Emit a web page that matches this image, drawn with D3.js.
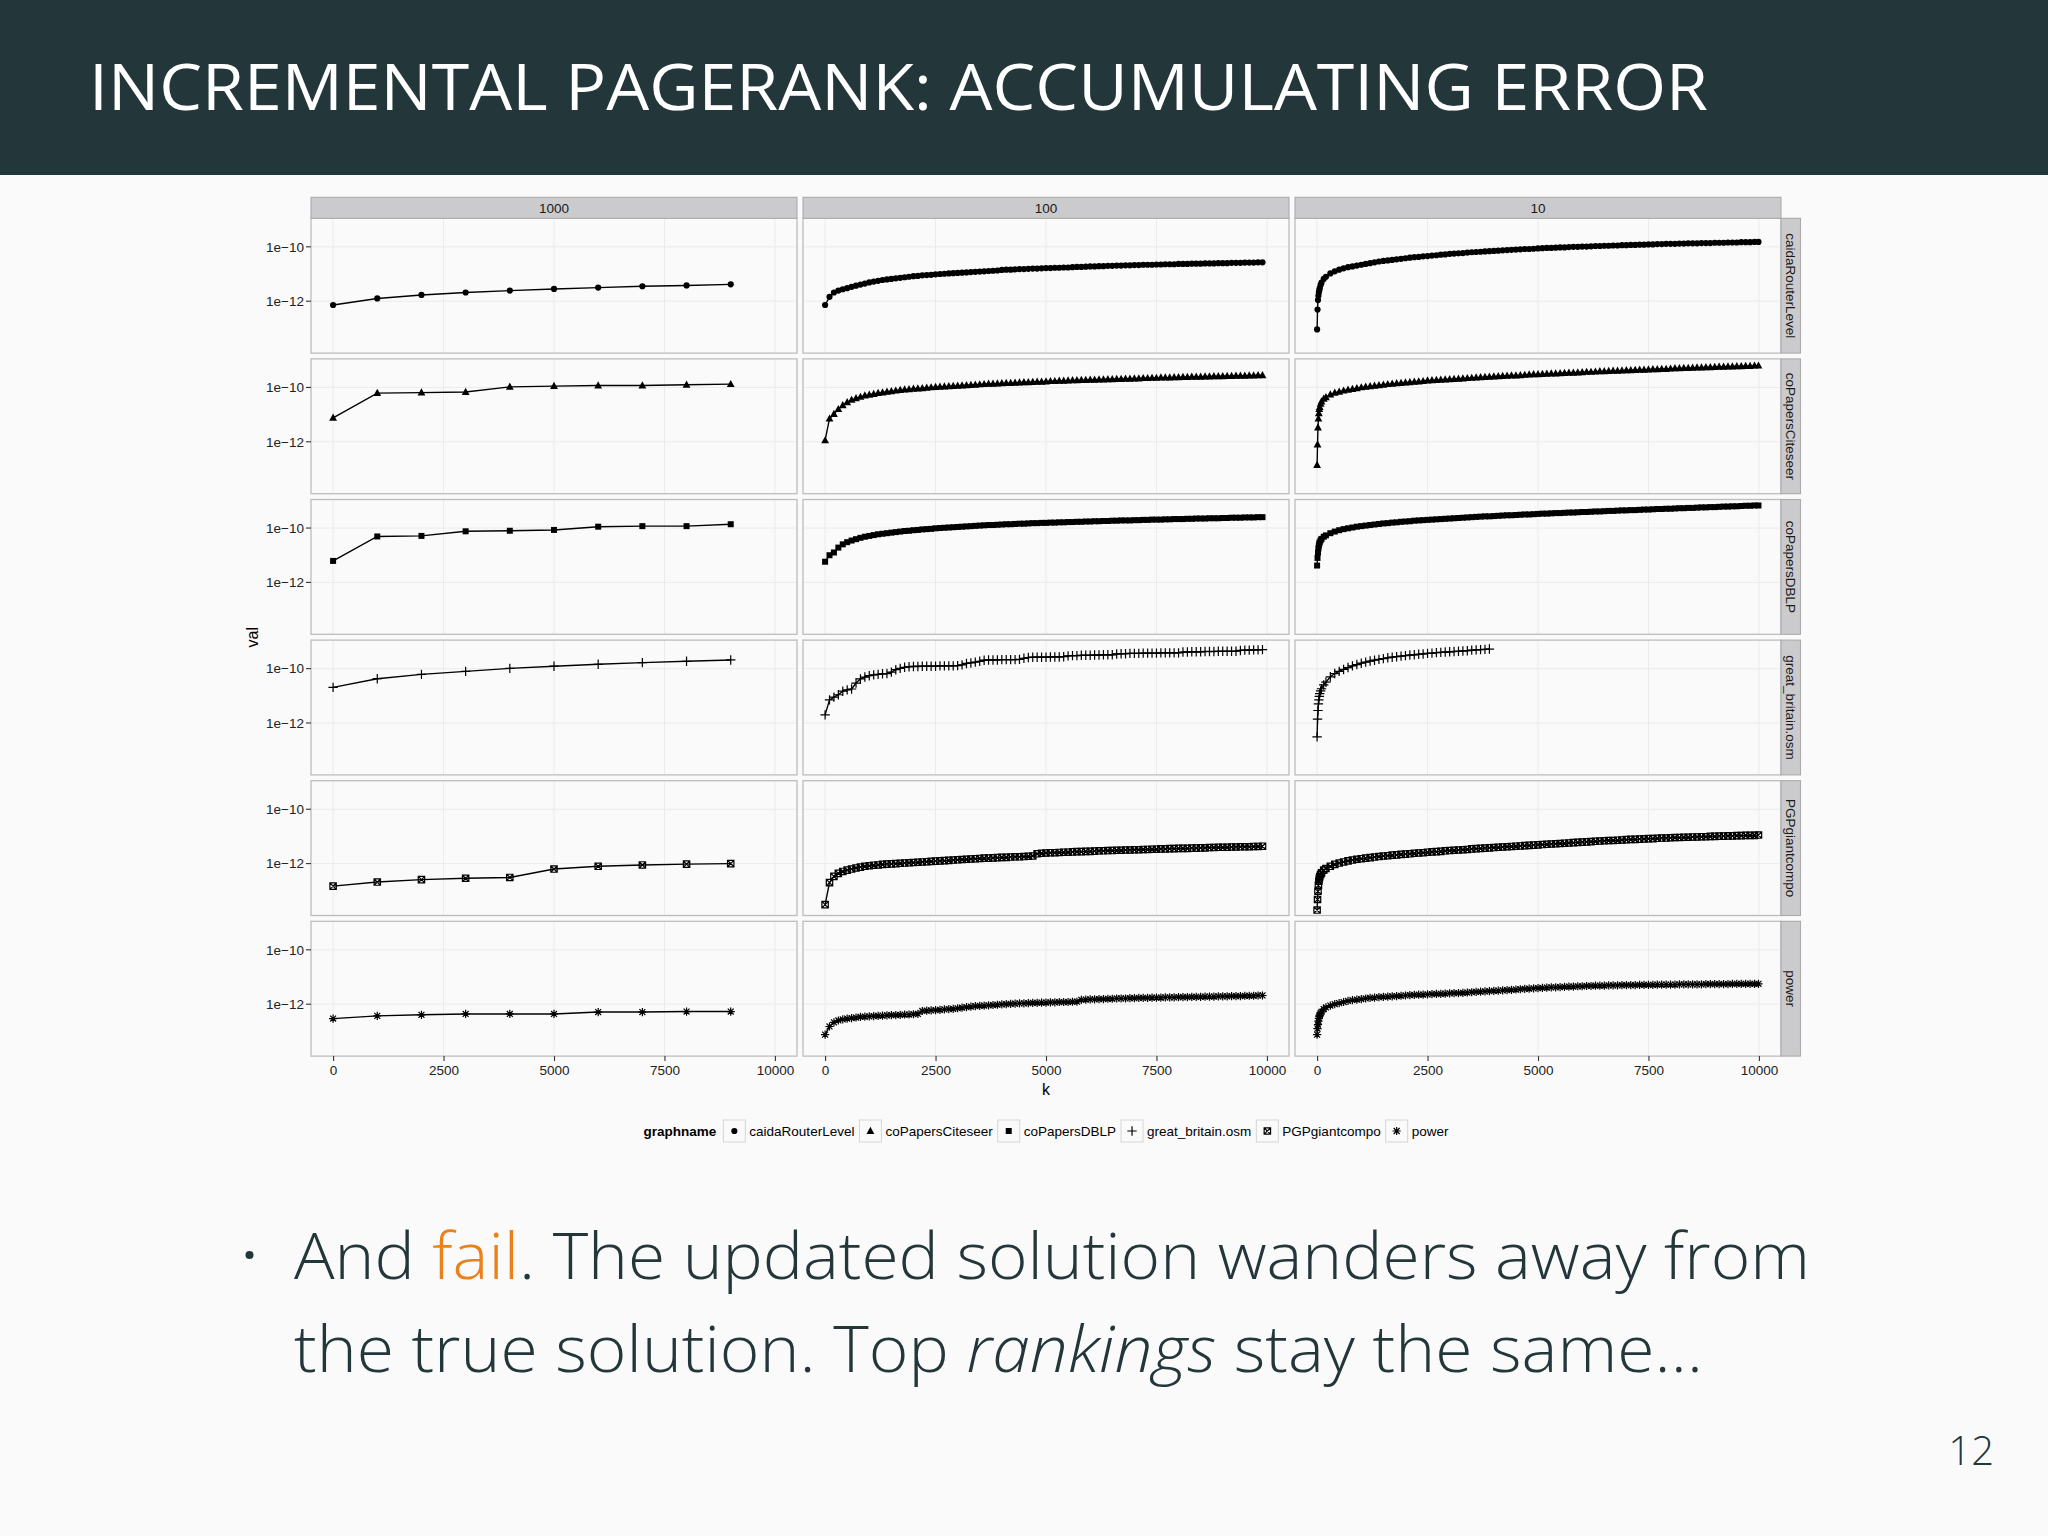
<!DOCTYPE html>
<meta charset="utf-8">
<style>
  body { margin: 0; background: #fafafa; }
  svg { display: block; }
  .chart text { font-family: "Liberation Sans", Arial, sans-serif; }
  .slide text { font-family: "Open Sans", sans-serif; }
</style>
<script src="https://d3js.org/d3.v7.min.js"></script>
<div id="slide"></div>
<script>

// facets: columns are the update step, rows are the graphs
var steps = ["1000", "100", "10"];
var graphs = ["caidaRouterLevel", "coPapersCiteseer", "coPapersDBLP", "great_britain.osm", "PGPgiantcompo", "power"];
var shapes = ["circle", "triangle", "square", "plus", "boxcross", "asterisk"];

var xTicks = [0, 2500, 5000, 7500, 10000];
var yTicks = [1e-10, 1e-12];
var yTickLabels = ["1e\u221210", "1e\u221212"];

// k values of the three step sizes
var K1000 = [0, 1000, 2000, 3000, 4000, 5000, 6000, 7000, 8000, 9000];
var K100 = [
  0, 100, 200, 300, 400, 500, 600, 700, 800, 900,
  1000, 1100, 1200, 1300, 1400, 1500, 1600, 1700, 1800, 1900,
  2000, 2100, 2200, 2300, 2400, 2500, 2600, 2700, 2800, 2900,
  3000, 3100, 3200, 3300, 3400, 3500, 3600, 3700, 3800, 3900,
  4000, 4100, 4200, 4300, 4400, 4500, 4600, 4700, 4800, 4900,
  5000, 5100, 5200, 5300, 5400, 5500, 5600, 5700, 5800, 5900,
  6000, 6100, 6200, 6300, 6400, 6500, 6600, 6700, 6800, 6900,
  7000, 7100, 7200, 7300, 7400, 7500, 7600, 7700, 7800, 7900,
  8000, 8100, 8200, 8300, 8400, 8500, 8600, 8700, 8800, 8900,
  9000, 9100, 9200, 9300, 9400, 9500, 9600, 9700, 9800, 9900];
var K10 = [0, 10, 20, 30, 40, 50, 60, 80, 100, 150, 200, 300, 400, 500,
  600, 700, 800, 900, 1000, 1100, 1200, 1300, 1400, 1500,
  1600, 1700, 1800, 1900, 2000, 2100, 2200, 2300, 2400, 2500,
  2600, 2700, 2800, 2900, 3000, 3100, 3200, 3300, 3400, 3500,
  3600, 3700, 3800, 3900, 4000, 4100, 4200, 4300, 4400, 4500,
  4600, 4700, 4800, 4900, 5000, 5100, 5200, 5300, 5400, 5500,
  5600, 5700, 5800, 5900, 6000, 6100, 6200, 6300, 6400, 6500,
  6600, 6700, 6800, 6900, 7000, 7100, 7200, 7300, 7400, 7500,
  7600, 7700, 7800, 7900, 8000, 8100, 8200, 8300, 8400, 8500,
  8600, 8700, 8800, 8900, 9000, 9100, 9200, 9300, 9400, 9500,
  9600, 9700, 9800, 9900, 9990];

// values, stored as log10(val)
var caida1000 = [-12.14, -11.90, -11.77, -11.68, -11.61, -11.55, -11.50, -11.45, -11.42, -11.38];
var citeseer1000 = [-11.12, -10.21, -10.19, -10.17, -9.98, -9.95, -9.93, -9.93, -9.90, -9.88];
var dblp1000 = [-11.21, -10.31, -10.29, -10.12, -10.10, -10.07, -9.95, -9.93, -9.93, -9.86];
var gb1000 = [-10.69, -10.37, -10.21, -10.10, -9.99, -9.91, -9.84, -9.78, -9.73, -9.68];
var pgp1000 = [-12.83, -12.68, -12.59, -12.54, -12.51, -12.20, -12.10, -12.05, -12.02, -12.00];
var power1000 = [-12.53, -12.43, -12.39, -12.36, -12.36, -12.36, -12.29, -12.29, -12.27, -12.27];

var caida100 = [
  -12.14, -11.84, -11.68, -11.61, -11.56, -11.52, -11.47, -11.43, -11.39, -11.35,
  -11.31, -11.28, -11.25, -11.22, -11.20, -11.18, -11.16, -11.14, -11.12, -11.10,
  -11.08, -11.07, -11.05, -11.04, -11.03, -11.01, -11.00, -10.99, -10.98, -10.97,
  -10.96, -10.95, -10.94, -10.93, -10.92, -10.91, -10.90, -10.89, -10.88, -10.87,
  -10.85, -10.84, -10.84, -10.83, -10.82, -10.82, -10.81, -10.80, -10.80, -10.79,
  -10.78, -10.78, -10.77, -10.77, -10.76, -10.76, -10.75, -10.74, -10.74, -10.73,
  -10.72, -10.72, -10.71, -10.71, -10.70, -10.70, -10.69, -10.69, -10.68, -10.68,
  -10.67, -10.67, -10.66, -10.66, -10.66, -10.65, -10.65, -10.64, -10.64, -10.64,
  -10.63, -10.63, -10.63, -10.62, -10.62, -10.62, -10.61, -10.61, -10.61, -10.60,
  -10.60, -10.60, -10.59, -10.59, -10.59, -10.58, -10.58, -10.58, -10.57, -10.57];
var citeseer100 = [
  -11.95, -11.15, -10.98, -10.80, -10.66, -10.55, -10.46, -10.40, -10.35, -10.30,
  -10.27, -10.24, -10.21, -10.19, -10.16, -10.14, -10.12, -10.10, -10.08, -10.07,
  -10.05, -10.04, -10.03, -10.01, -10.00, -9.99, -9.98, -9.97, -9.96, -9.95,
  -9.94, -9.93, -9.92, -9.91, -9.90, -9.89, -9.88, -9.87, -9.87, -9.86,
  -9.85, -9.84, -9.84, -9.83, -9.82, -9.81, -9.81, -9.80, -9.79, -9.79,
  -9.78, -9.77, -9.77, -9.76, -9.76, -9.75, -9.74, -9.74, -9.73, -9.73,
  -9.72, -9.72, -9.71, -9.71, -9.70, -9.70, -9.69, -9.69, -9.68, -9.68,
  -9.67, -9.67, -9.66, -9.66, -9.65, -9.65, -9.64, -9.64, -9.64, -9.63,
  -9.63, -9.62, -9.62, -9.61, -9.61, -9.61, -9.60, -9.60, -9.59, -9.59,
  -9.59, -9.58, -9.58, -9.57, -9.57, -9.57, -9.56, -9.56, -9.55, -9.55];
var dblp100 = [
  -11.24, -11.00, -10.90, -10.72, -10.60, -10.52, -10.46, -10.41, -10.36, -10.32,
  -10.29, -10.26, -10.23, -10.21, -10.19, -10.17, -10.15, -10.13, -10.11, -10.10,
  -10.08, -10.07, -10.05, -10.04, -10.03, -10.01, -10.00, -9.99, -9.98, -9.97,
  -9.96, -9.95, -9.94, -9.93, -9.92, -9.91, -9.90, -9.89, -9.89, -9.88,
  -9.87, -9.86, -9.86, -9.85, -9.84, -9.84, -9.83, -9.82, -9.82, -9.81,
  -9.81, -9.80, -9.80, -9.79, -9.79, -9.78, -9.78, -9.77, -9.77, -9.76,
  -9.76, -9.75, -9.75, -9.74, -9.74, -9.73, -9.73, -9.72, -9.72, -9.72,
  -9.71, -9.71, -9.70, -9.70, -9.69, -9.69, -9.69, -9.68, -9.68, -9.67,
  -9.67, -9.67, -9.66, -9.66, -9.65, -9.65, -9.65, -9.64, -9.64, -9.64,
  -9.63, -9.63, -9.62, -9.62, -9.62, -9.61, -9.61, -9.61, -9.60, -9.60];
var gb100 = [
  -11.70, -11.15, -11.05, -10.96, -10.83, -10.78, -10.75, -10.53, -10.38, -10.31,
  -10.26, -10.23, -10.21, -10.19, -10.18, -10.13, -10.04, -9.99, -9.95, -9.93,
  -9.92, -9.92, -9.91, -9.91, -9.91, -9.91, -9.90, -9.90, -9.90, -9.90,
  -9.89, -9.86, -9.81, -9.79, -9.76, -9.73, -9.69, -9.68, -9.68, -9.68,
  -9.67, -9.67, -9.67, -9.67, -9.66, -9.62, -9.59, -9.58, -9.58, -9.58,
  -9.58, -9.57, -9.57, -9.57, -9.56, -9.53, -9.52, -9.52, -9.51, -9.51,
  -9.51, -9.50, -9.50, -9.49, -9.49, -9.49, -9.46, -9.45, -9.45, -9.44,
  -9.44, -9.44, -9.43, -9.43, -9.43, -9.43, -9.42, -9.42, -9.42, -9.42,
  -9.42, -9.39, -9.39, -9.38, -9.38, -9.38, -9.37, -9.37, -9.37, -9.36,
  -9.36, -9.36, -9.36, -9.36, -9.33, -9.32, -9.32, -9.31, -9.31, -9.30];
var pgp100 = [
  -13.51, -12.70, -12.47, -12.36, -12.29, -12.24, -12.20, -12.16, -12.13, -12.10,
  -12.08, -12.06, -12.05, -12.03, -12.02, -12.01, -12.00, -11.99, -11.98, -11.97,
  -11.96, -11.95, -11.94, -11.93, -11.92, -11.91, -11.90, -11.89, -11.88, -11.87,
  -11.86, -11.85, -11.84, -11.83, -11.82, -11.81, -11.80, -11.80, -11.79, -11.78,
  -11.77, -11.77, -11.76, -11.75, -11.75, -11.74, -11.73, -11.72, -11.64, -11.62,
  -11.61, -11.60, -11.60, -11.59, -11.58, -11.58, -11.57, -11.56, -11.56, -11.55,
  -11.55, -11.54, -11.53, -11.53, -11.52, -11.52, -11.51, -11.51, -11.50, -11.50,
  -11.49, -11.49, -11.48, -11.48, -11.47, -11.47, -11.46, -11.46, -11.45, -11.45,
  -11.44, -11.44, -11.44, -11.43, -11.43, -11.42, -11.42, -11.41, -11.41, -11.40,
  -11.40, -11.40, -11.39, -11.39, -11.38, -11.38, -11.38, -11.37, -11.37, -11.36];
var power100 = [
  -13.12, -12.82, -12.67, -12.60, -12.56, -12.53, -12.51, -12.49, -12.47, -12.46,
  -12.45, -12.44, -12.43, -12.42, -12.41, -12.40, -12.40, -12.39, -12.38, -12.38,
  -12.37, -12.36, -12.25, -12.24, -12.23, -12.22, -12.21, -12.19, -12.18, -12.17,
  -12.15, -12.13, -12.11, -12.09, -12.07, -12.06, -12.05, -12.04, -12.03, -12.02,
  -12.01, -12.00, -11.99, -11.98, -11.97, -11.97, -11.96, -11.95, -11.95, -11.94,
  -11.94, -11.93, -11.93, -11.92, -11.92, -11.92, -11.91, -11.91, -11.84, -11.83,
  -11.82, -11.82, -11.81, -11.81, -11.80, -11.80, -11.79, -11.79, -11.79, -11.78,
  -11.78, -11.77, -11.77, -11.77, -11.76, -11.76, -11.76, -11.75, -11.75, -11.75,
  -11.74, -11.74, -11.74, -11.73, -11.73, -11.73, -11.72, -11.72, -11.72, -11.71,
  -11.71, -11.71, -11.70, -11.70, -11.70, -11.69, -11.69, -11.69, -11.68, -11.68];

var caida10 = [-13.04, -12.31, -11.96, -11.80, -11.68, -11.60, -11.52, -11.40, -11.32, -11.18, -11.10, -10.98, -10.90, -10.84,
  -10.79, -10.75, -10.72, -10.69, -10.66, -10.63, -10.60, -10.57, -10.54, -10.52,
  -10.50, -10.48, -10.46, -10.44, -10.42, -10.40, -10.38, -10.37, -10.35, -10.34,
  -10.32, -10.31, -10.29, -10.28, -10.26, -10.25, -10.24, -10.23, -10.21, -10.20,
  -10.19, -10.18, -10.17, -10.16, -10.15, -10.14, -10.13, -10.12, -10.11, -10.10,
  -10.09, -10.08, -10.08, -10.07, -10.06, -10.05, -10.04, -10.04, -10.03, -10.02,
  -10.02, -10.01, -10.00, -10.00, -9.99, -9.99, -9.98, -9.97, -9.97, -9.96,
  -9.96, -9.95, -9.95, -9.94, -9.94, -9.93, -9.93, -9.92, -9.92, -9.91,
  -9.91, -9.90, -9.90, -9.89, -9.89, -9.89, -9.88, -9.88, -9.87, -9.87,
  -9.87, -9.86, -9.86, -9.86, -9.85, -9.85, -9.85, -9.84, -9.84, -9.84,
  -9.83, -9.83, -9.83, -9.82, -9.82];
var citeseer10 = [-12.86, -12.10, -11.48, -11.15, -10.95, -10.80, -10.72, -10.60, -10.52, -10.42, -10.36, -10.26, -10.20, -10.16,
  -10.12, -10.09, -10.06, -10.03, -10.00, -9.98, -9.96, -9.94, -9.92, -9.90,
  -9.88, -9.87, -9.85, -9.84, -9.82, -9.81, -9.79, -9.78, -9.77, -9.75,
  -9.74, -9.73, -9.72, -9.71, -9.70, -9.69, -9.68, -9.67, -9.66, -9.65,
  -9.64, -9.63, -9.62, -9.61, -9.60, -9.59, -9.58, -9.57, -9.56, -9.56,
  -9.55, -9.54, -9.53, -9.52, -9.52, -9.51, -9.50, -9.49, -9.49, -9.48,
  -9.47, -9.46, -9.46, -9.45, -9.44, -9.43, -9.43, -9.42, -9.41, -9.41,
  -9.40, -9.39, -9.39, -9.38, -9.37, -9.37, -9.36, -9.35, -9.35, -9.34,
  -9.33, -9.33, -9.32, -9.32, -9.31, -9.30, -9.30, -9.29, -9.29, -9.28,
  -9.27, -9.27, -9.26, -9.26, -9.25, -9.24, -9.24, -9.23, -9.23, -9.22,
  -9.22, -9.21, -9.21, -9.20, -9.20];
var dblp10 = [-11.38, -11.10, -10.90, -10.75, -10.65, -10.57, -10.52, -10.45, -10.40, -10.32, -10.27, -10.19, -10.13, -10.08,
  -10.04, -10.01, -9.98, -9.95, -9.93, -9.91, -9.89, -9.87, -9.85, -9.83,
  -9.82, -9.80, -9.79, -9.77, -9.76, -9.75, -9.73, -9.72, -9.71, -9.70,
  -9.69, -9.68, -9.67, -9.66, -9.65, -9.64, -9.63, -9.62, -9.61, -9.60,
  -9.59, -9.58, -9.57, -9.57, -9.56, -9.55, -9.54, -9.53, -9.53, -9.52,
  -9.51, -9.50, -9.50, -9.49, -9.48, -9.47, -9.47, -9.46, -9.45, -9.45,
  -9.44, -9.43, -9.43, -9.42, -9.41, -9.41, -9.40, -9.39, -9.39, -9.38,
  -9.37, -9.37, -9.36, -9.35, -9.35, -9.34, -9.34, -9.33, -9.32, -9.32,
  -9.31, -9.30, -9.30, -9.29, -9.29, -9.28, -9.27, -9.27, -9.26, -9.26,
  -9.25, -9.24, -9.24, -9.23, -9.23, -9.22, -9.21, -9.21, -9.20, -9.20,
  -9.19, -9.18, -9.18, -9.17, -9.17];
// great_britain.osm stops near k = 4000
var gb10 = [-12.51, -11.86, -11.54, -11.30, -11.15, -11.02, -10.92, -10.82, -10.74, -10.60, -10.50, -10.30, -10.18, -10.10,
  -10.03, -9.96, -9.90, -9.85, -9.80, -9.76, -9.72, -9.69, -9.66, -9.63,
  -9.60, -9.58, -9.56, -9.54, -9.52, -9.50, -9.49, -9.47, -9.46, -9.44,
  -9.43, -9.41, -9.40, -9.39, -9.38, -9.37, -9.36, -9.35, -9.34, -9.32,
  -9.31, -9.30, -9.29, -9.28];
var pgp10 = [-13.71, -13.32, -13.02, -12.80, -12.65, -12.55, -12.48, -12.40, -12.34, -12.24, -12.18, -12.10, -12.03, -11.98,
  -11.94, -11.90, -11.87, -11.84, -11.82, -11.80, -11.78, -11.76, -11.74, -11.72,
  -11.71, -11.69, -11.68, -11.66, -11.65, -11.64, -11.62, -11.61, -11.60, -11.58,
  -11.57, -11.56, -11.55, -11.53, -11.52, -11.51, -11.50, -11.49, -11.48, -11.46,
  -11.45, -11.44, -11.43, -11.42, -11.41, -11.40, -11.39, -11.38, -11.37, -11.36,
  -11.35, -11.34, -11.33, -11.32, -11.31, -11.30, -11.29, -11.28, -11.27, -11.26,
  -11.25, -11.24, -11.23, -11.22, -11.21, -11.20, -11.19, -11.18, -11.17, -11.16,
  -11.15, -11.15, -11.14, -11.13, -11.12, -11.11, -11.11, -11.10, -11.09, -11.08,
  -11.08, -11.07, -11.06, -11.06, -11.05, -11.04, -11.04, -11.03, -11.03, -11.02,
  -11.02, -11.01, -11.01, -11.00, -11.00, -10.99, -10.99, -10.98, -10.98, -10.97,
  -10.97, -10.96, -10.96, -10.96, -10.95];
var power10 = [-13.12, -12.90, -12.75, -12.62, -12.52, -12.45, -12.40, -12.33, -12.28, -12.18, -12.12, -12.05, -12.00, -11.96,
  -11.92, -11.88, -11.85, -11.83, -11.81, -11.79, -11.77, -11.76, -11.74, -11.73,
  -11.72, -11.71, -11.70, -11.69, -11.68, -11.67, -11.66, -11.65, -11.65, -11.64,
  -11.63, -11.62, -11.62, -11.61, -11.60, -11.59, -11.59, -11.58, -11.57, -11.56,
  -11.55, -11.54, -11.53, -11.52, -11.51, -11.50, -11.49, -11.48, -11.47, -11.46,
  -11.45, -11.44, -11.43, -11.42, -11.41, -11.40, -11.39, -11.38, -11.38, -11.37,
  -11.36, -11.35, -11.35, -11.34, -11.34, -11.33, -11.33, -11.32, -11.32, -11.32,
  -11.31, -11.31, -11.31, -11.30, -11.30, -11.30, -11.30, -11.29, -11.29, -11.29,
  -11.29, -11.28, -11.28, -11.28, -11.28, -11.28, -11.27, -11.27, -11.27, -11.27,
  -11.27, -11.27, -11.26, -11.26, -11.26, -11.26, -11.26, -11.26, -11.25, -11.25,
  -11.25, -11.25, -11.25, -11.25, -11.25];

var kGrids = [K1000, K100, K10];
var values = [
  [caida1000, caida100, caida10],
  [citeseer1000, citeseer100, citeseer10],
  [dblp1000, dblp100, dblp10],
  [gb1000, gb100, gb10],
  [pgp1000, pgp100, pgp10],
  [power1000, power100, power10]
];

// ---- slide ----
var svg = d3.select("#slide").append("svg")
    .attr("width", 2048).attr("height", 1536);

var slide = svg.append("g").attr("class", "slide");
slide.append("rect").attr("width", 2048).attr("height", 1536).attr("fill", "#fafafa");
slide.append("rect").attr("width", 2048).attr("height", 175).attr("fill", "#23373b");
slide.append("text")
    .attr("x", 89).attr("y", 110)
    .attr("font-size", 64)
    .attr("fill", "#ffffff")
    .attr("textLength", 1619).attr("lengthAdjust", "spacingAndGlyphs")
    .text("INCREMENTAL PAGERANK: ACCUMULATING ERROR");

slide.append("circle").attr("cx", 249.5).attr("cy", 1255).attr("r", 4).attr("fill", "#23373b");

var line1 = slide.append("text")
    .attr("x", 294).attr("y", 1279)
    .attr("font-size", 64).attr("font-weight", 300)
    .attr("fill", "#23373b")
    .attr("textLength", 1516).attr("lengthAdjust", "spacingAndGlyphs");
line1.append("tspan").text("And ");
line1.append("tspan").attr("fill", "#eb811b").text("fail");
line1.append("tspan").text(". The updated solution wanders away from");

var line2 = slide.append("text")
    .attr("x", 294).attr("y", 1372)
    .attr("font-size", 64).attr("font-weight", 300)
    .attr("fill", "#23373b")
    .attr("textLength", 1409).attr("lengthAdjust", "spacingAndGlyphs");
line2.append("tspan").text("the true solution. Top ");
line2.append("tspan").attr("font-style", "italic").text("rankings");
line2.append("tspan").text(" stay the same\u2026");

slide.append("text")
    .attr("x", 1994).attr("y", 1465)
    .attr("text-anchor", "end")
    .attr("font-size", 40).attr("font-weight", 300)
    .attr("fill", "#23373b")
    .text("12");

// ---- faceted chart ----
var plotLeft = 311, colW = 486, colGap = 6;
var plotTop = 218.3, rowH = 134.8, rowGap = 5.8;
var stripH = 21, stripW = 19.5;
var plotRight = plotLeft + 3 * colW + 2 * colGap;
var plotBottom = plotTop + 6 * rowH + 5 * rowGap;

var x = d3.scaleLinear().domain([-500, 10500]).range([0, colW]);
var y = d3.scaleLog().domain([Math.pow(10, -13.91), Math.pow(10, -8.95)]).range([rowH, 0]);

var chart = svg.append("g").attr("class", "chart");

// point shapes (size = half width)
var symbolTypes = {
  circle: { draw: function(c, r) { c.moveTo(r, 0); c.arc(0, 0, r, 0, 2 * Math.PI); } },
  triangle: { draw: function(c, r) { c.moveTo(0, -r * 1.1); c.lineTo(r, r * 0.75); c.lineTo(-r, r * 0.75); c.closePath(); } },
  square: { draw: function(c, r) { c.rect(-r, -r, 2 * r, 2 * r); } },
  plus: { draw: function(c, r) { c.moveTo(-r, 0); c.lineTo(r, 0); c.moveTo(0, -r); c.lineTo(0, r); } },
  boxcross: { draw: function(c, r) {
    c.rect(-r, -r, 2 * r, 2 * r);
    c.moveTo(-r, -r); c.lineTo(r, r); c.moveTo(r, -r); c.lineTo(-r, r); } },
  asterisk: { draw: function(c, r) {
    var d = r * 0.72;
    c.moveTo(-r, 0); c.lineTo(r, 0); c.moveTo(0, -r); c.lineTo(0, r);
    c.moveTo(-d, -d); c.lineTo(d, d); c.moveTo(d, -d); c.lineTo(-d, d); } }
};
var symbolSize = { circle: 3.1, triangle: 3.9, square: 3.0, plus: 4.7, boxcross: 3.2, asterisk: 4.1 };
var filled = { circle: true, triangle: true, square: true, plus: false, boxcross: false, asterisk: false };

function drawSymbol(sel, shape) {
  sel.attr("d", d3.symbol().type(symbolTypes[shape]).size(symbolSize[shape]))
    .attr("fill", filled[shape] ? "#000" : "none")
    .attr("stroke", filled[shape] ? "none" : "#000")
    .attr("stroke-width", 1.2);
}

var line = d3.line()
    .x(function(d) { return x(d.k); })
    .y(function(d) { return y(d.val); });

graphs.forEach(function(name, r) {
  steps.forEach(function(step, c) {
    var g = chart.append("g")
        .attr("transform", "translate(" + (plotLeft + c * (colW + colGap)) + "," + (plotTop + r * (rowH + rowGap)) + ")");

    g.append("rect").attr("width", colW).attr("height", rowH).attr("fill", "#fafafa");

    g.selectAll(".gx").data(xTicks).enter().append("line")
        .attr("x1", function(d) { return x(d); }).attr("x2", function(d) { return x(d); })
        .attr("y1", 0).attr("y2", rowH)
        .attr("stroke", "#ebebeb").attr("stroke-width", 1);
    g.selectAll(".gy").data(yTicks).enter().append("line")
        .attr("x1", 0).attr("x2", colW)
        .attr("y1", function(d) { return y(d); }).attr("y2", function(d) { return y(d); })
        .attr("stroke", "#ebebeb").attr("stroke-width", 1);

    var ks = kGrids[c], vs = values[r][c];
    var n = Math.min(ks.length, vs.length);
    var data = [];
    for (var i = 0; i < n; i++) data.push({ k: ks[i], val: Math.pow(10, vs[i]) });

    g.append("path").datum(data)
        .attr("d", line)
        .attr("fill", "none")
        .attr("stroke", "#000")
        .attr("stroke-width", 1.4);

    g.selectAll(".pt").data(data).enter().append("path")
        .attr("transform", function(d) { return "translate(" + x(d.k) + "," + y(d.val) + ")"; })
        .call(drawSymbol, shapes[r]);

    g.append("rect").attr("width", colW).attr("height", rowH)
        .attr("fill", "none").attr("stroke", "#bdbdbd").attr("stroke-width", 1.3);

    // y axis on the first column
    if (c === 0) {
      yTicks.forEach(function(t, j) {
        g.append("line").attr("x1", -5).attr("x2", 0)
            .attr("y1", y(t)).attr("y2", y(t))
            .attr("stroke", "#333").attr("stroke-width", 1.1);
        g.append("text").attr("x", -7).attr("y", y(t)).attr("dy", "0.35em")
            .attr("text-anchor", "end").attr("font-size", 13.5).attr("fill", "#222")
            .text(yTickLabels[j]);
      });
    }
  });
});

// top strips
steps.forEach(function(step, c) {
  var x0 = plotLeft + c * (colW + colGap);
  chart.append("rect").attr("x", x0).attr("y", plotTop - stripH)
      .attr("width", colW).attr("height", stripH)
      .attr("fill", "#cbcbcd").attr("stroke", "#ababab").attr("stroke-width", 1.1);
  chart.append("text").attr("x", x0 + colW / 2).attr("y", plotTop - stripH / 2).attr("dy", "0.35em")
      .attr("text-anchor", "middle").attr("font-size", 13.5).attr("fill", "#1a1a1a")
      .text(step);

  // x axis below last row
  var ax = chart.append("g").attr("transform", "translate(" + x0 + "," + plotBottom + ")");
  ax.call(d3.axisBottom(x).tickValues(xTicks).tickSize(5).tickPadding(4).tickFormat(d3.format("d")));
  ax.select(".domain").remove();
  ax.selectAll(".tick line").attr("stroke", "#333").attr("stroke-width", 1.1);
  ax.selectAll(".tick text").attr("font-size", 13.5).attr("fill", "#222")
      .attr("font-family", "Liberation Sans, Arial, sans-serif");
});

// right strips
graphs.forEach(function(name, r) {
  var y0 = plotTop + r * (rowH + rowGap);
  chart.append("rect").attr("x", plotRight).attr("y", y0)
      .attr("width", stripW).attr("height", rowH)
      .attr("fill", "#cbcbcd").attr("stroke", "#ababab").attr("stroke-width", 1.1);
  chart.append("text")
      .attr("transform", "translate(" + (plotRight + stripW / 2) + "," + (y0 + rowH / 2) + ") rotate(90)")
      .attr("dy", "0.35em").attr("text-anchor", "middle")
      .attr("font-size", 13.5).attr("fill", "#1a1a1a")
      .text(name);
});

// axis titles
chart.append("text")
    .attr("transform", "translate(252," + ((plotTop + plotBottom) / 2) + ") rotate(-90)")
    .attr("dy", "0.35em").attr("text-anchor", "middle")
    .attr("font-size", 16).attr("fill", "#000").text("val");
chart.append("text")
    .attr("x", (plotLeft + plotRight) / 2).attr("y", 1089).attr("dy", "0.35em")
    .attr("text-anchor", "middle").attr("font-size", 16).attr("fill", "#000").text("k");

// legend
var legend = chart.append("g").attr("transform", "translate(0,1131)");
var lt = legend.append("text").attr("dy", "0.35em")
    .attr("font-size", 13.5).attr("font-weight", "bold").attr("fill", "#000").text("graphname");
var cursor = lt.node().getComputedTextLength() + 7;
graphs.forEach(function(name, r) {
  var it = legend.append("g").attr("transform", "translate(" + cursor + ",0)");
  it.append("rect").attr("x", 0).attr("y", -11).attr("width", 22).attr("height", 22)
      .attr("fill", "#fafafa").attr("stroke", "#d5d5d5").attr("stroke-width", 1);
  it.append("path").attr("transform", "translate(11,0)").call(drawSymbol, shapes[r]);
  var tx = it.append("text").attr("x", 26).attr("dy", "0.35em")
      .attr("font-size", 13.5).attr("fill", "#000").text(name);
  cursor += 26 + tx.node().getComputedTextLength() + 5;
});
var legendW = cursor - 5;
legend.attr("transform", "translate(" + ((plotLeft + plotRight) / 2 - legendW / 2) + ",1131)");

</script>
